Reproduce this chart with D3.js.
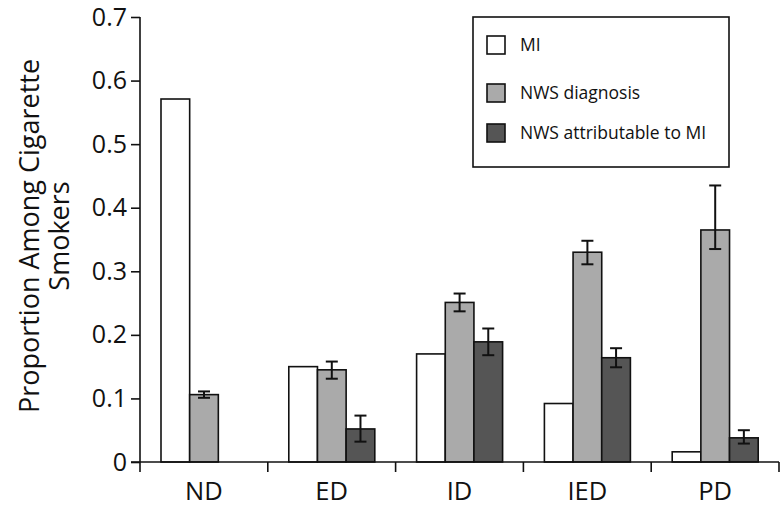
<!doctype html>
<html>
	<head>
		<script src="https://d3js.org/d3.v7.min.js"></script>
		<style>
		body { margin: 0; background: #fff; }
		text { font-family: "Open Sans", sans-serif; fill: #111; }
		</style>
	</head>
	<body>
		<svg width="780" height="507"></svg>
		<script>
		var categories = ["ND", "ED", "ID", "IED", "PD"];
		var seriesNames = ["MI", "NWS diagnosis", "NWS attributable to MI"];
		var seriesColors = ["#ffffff", "#aaaaaa", "#555555"];

		var mi        = [0.571, 0.150, 0.170, 0.092, 0.016];
		var nwsDiag   = [0.106, 0.145, 0.251, 0.330, 0.365];
		var nwsDiagLo = [0.101, 0.131, 0.237, 0.311, 0.335];
		var nwsDiagHi = [0.111, 0.158, 0.265, 0.348, 0.435];
		var nwsAttr   = [null, 0.052, 0.189, 0.164, 0.038];
		var nwsAttrLo = [null, 0.032, 0.168, 0.149, 0.029];
		var nwsAttrHi = [null, 0.073, 0.210, 0.179, 0.050];

		var yTicks = [0, 0.1, 0.2, 0.3, 0.4, 0.5, 0.6, 0.7];

		var values = [mi, nwsDiag, nwsAttr];
		var lows   = [null, nwsDiagLo, nwsAttrLo];
		var highs  = [null, nwsDiagHi, nwsAttrHi];

		var svg = d3.select("svg");

		var y = d3.scaleLinear().domain([0, 0.7]).range([462, 17]);
		var x0 = d3.scaleBand().domain(categories).range([140, 779]).padding(0);
		var x1 = d3.scaleBand().domain(seriesNames).range([21, 107]).padding(0);

		// bars
		var bars = [];
		categories.forEach(function(c, i) {
			seriesNames.forEach(function(s, j) {
				if (values[j][i] == null) return;
				bars.push({cat: c, s: s, j: j, v: values[j][i],
					lo: lows[j] ? lows[j][i] : null, hi: highs[j] ? highs[j][i] : null});
			});
		});

		svg.selectAll("rect.bar").data(bars).enter().append("rect")
			.attr("class", "bar")
			.attr("x", function(d) { return x0(d.cat) + x1(d.s); })
			.attr("width", x1.bandwidth())
			.attr("y", function(d) { return y(d.v); })
			.attr("height", function(d) { return y(0) - y(d.v); })
			.attr("fill", function(d) { return seriesColors[d.j]; })
			.attr("stroke", "#111")
			.attr("stroke-width", 1.6);

		// error bars
		var err = svg.selectAll("g.err").data(bars.filter(function(d) { return d.lo != null; }))
			.enter().append("g").attr("class", "err")
			.attr("transform", function(d) { return "translate(" + (x0(d.cat) + x1(d.s) + x1.bandwidth() / 2) + ",0)"; })
			.attr("stroke", "#111").attr("stroke-width", 2);
		err.append("line").attr("y1", function(d) { return y(d.lo); }).attr("y2", function(d) { return y(d.hi); });
		err.append("line").attr("x1", -6).attr("x2", 6)
			.attr("y1", function(d) { return y(d.hi); }).attr("y2", function(d) { return y(d.hi); });
		err.append("line").attr("x1", -6).attr("x2", 6)
			.attr("y1", function(d) { return y(d.lo); }).attr("y2", function(d) { return y(d.lo); });

		// y axis
		var yAxis = svg.append("g").attr("transform", "translate(140,0)")
			.call(d3.axisLeft(y).tickValues(yTicks).tickSize(9).tickPadding(4)
				.tickFormat(function(d) { return d === 0 ? "0" : d.toFixed(1); }));
		yAxis.select(".domain").remove();
		yAxis.selectAll("line").attr("stroke", "#111").attr("stroke-width", 1.6);
		yAxis.selectAll("text").attr("font-size", 25).attr("font-family", "Open Sans").attr("fill", "#111");
		svg.append("line").attr("x1", 140).attr("x2", 140).attr("y1", y(0.7)).attr("y2", y(0))
			.attr("stroke", "#111").attr("stroke-width", 1.6);

		// x axis
		var bounds = categories.map(function(c) { return x0(c); }).concat([x0.range()[1]]);
		svg.append("line").attr("x1", 131).attr("x2", 779).attr("y1", y(0)).attr("y2", y(0))
			.attr("stroke", "#111").attr("stroke-width", 1.6);
		svg.selectAll("line.xt").data(bounds).enter().append("line").attr("class", "xt")
			.attr("x1", function(d) { return d; }).attr("x2", function(d) { return d; })
			.attr("y1", y(0)).attr("y2", y(0) + 10)
			.attr("stroke", "#111").attr("stroke-width", 1.6);
		svg.selectAll("text.xl").data(categories).enter().append("text").attr("class", "xl")
			.attr("x", function(c) { return x0(c) + x0.bandwidth() / 2; })
			.attr("y", 500)
			.attr("text-anchor", "middle")
			.attr("font-size", 25.5)
			.text(function(c) { return c; });

		// y label
		var yl = svg.append("text").attr("transform", "translate(0,236) rotate(-90)")
			.attr("text-anchor", "middle").attr("font-size", 27);
		yl.append("tspan").attr("x", 0).attr("y", 39).text("Proportion Among Cigarette");
		yl.append("tspan").attr("x", 0).attr("y", 69).text("Smokers");

		// legend
		var lg = svg.append("g").attr("transform", "translate(473,17)");
		lg.append("rect").attr("width", 256).attr("height", 150)
			.attr("fill", "#fff").attr("stroke", "#111").attr("stroke-width", 1.6);
		var rowY = [28, 76, 116];
		seriesNames.forEach(function(s, j) {
			lg.append("rect").attr("x", 14).attr("y", rowY[j] - 9).attr("width", 18).attr("height", 18)
				.attr("fill", seriesColors[j]).attr("stroke", "#111").attr("stroke-width", 1.6);
			lg.append("text").attr("x", 47).attr("y", rowY[j] + 6).attr("font-size", 17.5).text(s);
		});
		</script>
	</body>
</html>
